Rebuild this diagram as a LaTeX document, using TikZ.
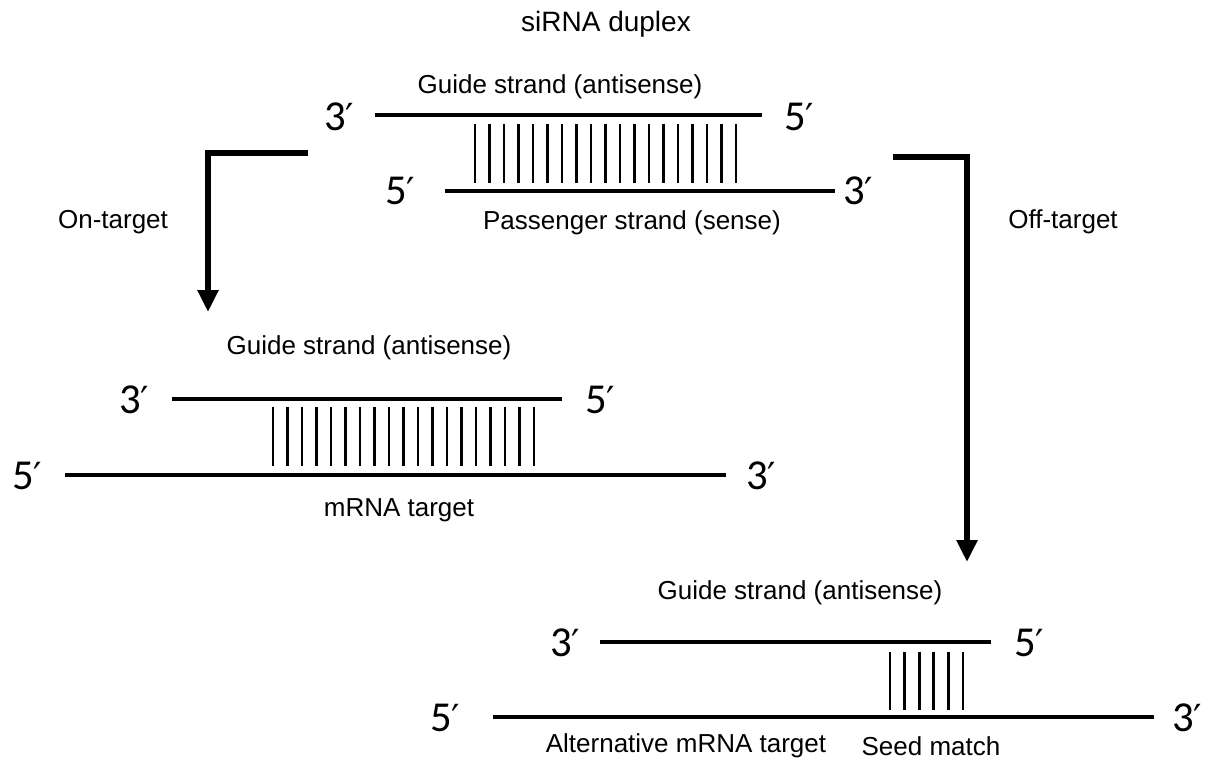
\documentclass[tikz,border=0pt]{standalone}
\usepackage{fontspec}
\setmainfont{Liberation Sans}
\newfontfamily\primefont{Carlito}
\newfontfamily\djvfont{DejaVu Sans}
\newcommand{\myprime}{{\djvfont\fontsize{28}{32}\selectfont ′}}
\usetikzlibrary{arrows.meta}
\begin{document}
\begin{tikzpicture}[x=0.75pt,y=-0.75pt,
  lbl/.style={font=\fontsize{19.5}{22}\selectfont, inner sep=0pt},
  ttl/.style={font=\fontsize{21}{24}\selectfont, inner sep=0pt},
  endl/.style={font=\primefont\fontsize{32}{36}\selectfont, inner sep=0pt, anchor=west},
  strand/.style={line width=2.6pt},
  bp/.style={line width=2.2pt},
  flow/.style={line width=5pt, line join=miter, -{Triangle[length=16.5pt,width=15pt]}}
]
\useasboundingbox (0,0) rectangle (1216,765);

% title
\node[ttl] (title) at (606,24) {siRNA duplex};

% ---------- top duplex ----------
\node[lbl] (g1lab) at (560,87) {Guide strand (antisense)};
\node[endl] (g1l) at (324,117) {3\myprime};
\node[endl] (g1r) at (784,117) {5\myprime};
\coordinate (g1a) at (375,115);
\coordinate (g1b) at (762,115);
\draw[strand] (g1a) -- (g1b);
\foreach \i in {0,...,18} \draw[bp] ({475+\i*14.5},124) -- ({475+\i*14.5},183);
\coordinate (p1a) at (445,191);
\coordinate (p1b) at (835,191);
\draw[strand] (p1a) -- (p1b);
\node[endl] (p1l) at (385,191) {5\myprime};
\node[endl] (p1r) at (843,191) {3\myprime};
\node[lbl] (p1lab) at (632,223) {Passenger strand (sense)};

% ---------- arrows ----------
\coordinate (onS) at (308,153);
\coordinate (onC) at (208,153);
\coordinate (onE) at (208,312);
\draw[flow] (onS) -- (onC) -- (onE);
\node[lbl] (onlab) at (113,222) {On-target};

\coordinate (offS) at (893,157);
\coordinate (offC) at (967,157);
\coordinate (offE) at (967,562);
\draw[flow] (offS) -- (offC) -- (offE);
\node[lbl] (offlab) at (1063,222) {Off-target};

% ---------- on-target ----------
\node[lbl] (g2lab) at (369,348) {Guide strand (antisense)};
\node[endl] (g2l) at (119,400) {3\myprime};
\node[endl] (g2r) at (585,400) {5\myprime};
\coordinate (g2a) at (172,399);
\coordinate (g2b) at (562,399);
\draw[strand] (g2a) -- (g2b);
\foreach \i in {0,...,18} \draw[bp] ({273+\i*14.5},407) -- ({273+\i*14.5},466);
\coordinate (m2a) at (65,475);
\coordinate (m2b) at (726,475);
\draw[strand] (m2a) -- (m2b);
\node[endl] (m2l) at (12,476) {5\myprime};
\node[endl] (m2r) at (746,476) {3\myprime};
\node[lbl] (m2lab) at (399,510) {mRNA target};

% ---------- off-target ----------
\node[lbl] (g3lab) at (800,593) {Guide strand (antisense)};
\node[endl] (g3l) at (550,643) {3\myprime};
\node[endl] (g3r) at (1014,643) {5\myprime};
\coordinate (g3a) at (600,642);
\coordinate (g3b) at (991,642);
\draw[strand] (g3a) -- (g3b);
\foreach \i in {0,...,5} \draw[bp] ({890+\i*14.6},652) -- ({890+\i*14.6},710);
\coordinate (m3a) at (493,717);
\coordinate (m3b) at (1154,717);
\draw[strand] (m3a) -- (m3b);
\node[endl] (m3l) at (430,718) {5\myprime};
\node[endl] (m3r) at (1172,718) {3\myprime};
\node[lbl] (altlab) at (686,746) {Alternative mRNA target};
\node[lbl] (seedlab) at (931,746) {Seed match};
\end{tikzpicture}
\end{document}
